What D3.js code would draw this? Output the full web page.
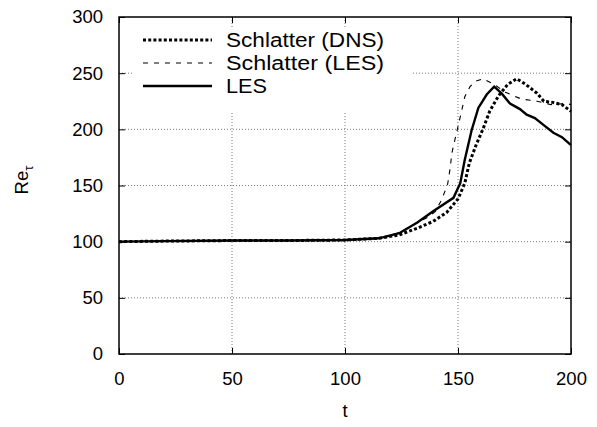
<!DOCTYPE html>
<html>
<head>
<meta charset="utf-8">
<script src="https://cdn.jsdelivr.net/npm/d3@7"></script>
<style>
  body { margin: 0; background: #fff; }
  text { font-family: "Liberation Sans", Arial, sans-serif; }
</style>
</head>
<body>
<svg id="chart"></svg>
<script>
// Schlatter (DNS)
const dnsT = [0, 20, 50, 75, 100, 115, 124, 132, 139, 145, 150, 153, 155, 158, 161, 164, 168, 172, 176, 180, 185, 188, 192, 196, 200];
const dnsV = [100, 100.5, 101, 101, 101.5, 103, 106, 112, 118, 126, 138, 152, 170, 186, 200, 216, 230, 240, 245, 240, 232, 225, 224, 222, 216];

// Schlatter (LES)
const sLesT = [0, 20, 50, 75, 100, 115, 124, 132, 137, 140, 142.7, 145.4, 146.5, 147.3, 149, 151, 153, 155.3, 158, 161, 166, 171, 178, 185, 191, 198, 200];
const sLesV = [100, 100.5, 101, 101, 101.5, 103, 108, 117, 122, 127, 137, 151, 165, 179, 194, 211, 229, 238, 243, 245, 240, 233, 227, 225, 222, 223, 222];

// LES
const lesT = [0, 20, 50, 75, 100, 115, 124, 132, 139, 148, 151, 153, 156, 159, 162.7, 166, 169.3, 173, 177.4, 180.4, 184, 187.8, 192.2, 196, 200];
const lesV = [100, 100.5, 101, 101, 101.5, 103, 107.5, 117, 127, 139, 152, 173, 199, 219, 231, 238, 232, 223, 218, 213, 210, 204, 197, 193, 186];

const xTicks = [0, 50, 100, 150, 200];
const yTicks = [0, 50, 100, 150, 200, 250, 300];

const width = 597, height = 427;
const margin = { top: 17, right: 26, bottom: 73, left: 119 };

const svg = d3.select("#chart").attr("width", width).attr("height", height);

const x = d3.scaleLinear().domain([0, 200]).range([margin.left, width - margin.right]);
const y = d3.scaleLinear().domain([0, 300]).range([height - margin.bottom, margin.top]);

// grid
svg.append("g").selectAll("line")
    .data(xTicks.slice(1, -1))
    .join("line")
    .attr("x1", d => x(d)).attr("x2", d => x(d))
    .attr("y1", y(0)).attr("y2", y(300))
    .attr("stroke", "#555").attr("stroke-width", 0.8).attr("stroke-dasharray", "1,2");

svg.append("g").selectAll("line")
    .data(yTicks.slice(1, -1))
    .join("line")
    .attr("x1", x(0)).attr("x2", x(200))
    .attr("y1", d => y(d)).attr("y2", d => y(d))
    .attr("stroke", "#555").attr("stroke-width", 0.8).attr("stroke-dasharray", "1,2");

// legend background clears grid behind it
svg.append("rect")
    .attr("x", x(0) + 14).attr("y", y(300) + 12)
    .attr("width", 280).attr("height", 84)
    .attr("fill", "#fff");

// axes with inward ticks
const axisStyle = g => {
    g.select(".domain").remove();
    g.selectAll("text").attr("font-size", 18.5).attr("fill", "#000")
        .attr("font-family", '"Liberation Sans", Arial, sans-serif');
    g.selectAll("line").attr("stroke", "#000");
};

svg.append("g")
    .attr("transform", `translate(0,${y(0)})`)
    .call(d3.axisBottom(x).tickValues(xTicks).tickSizeInner(-6).tickSizeOuter(0).tickPadding(18))
    .call(axisStyle);

svg.append("g")
    .attr("transform", `translate(${x(0)},0)`)
    .call(d3.axisLeft(y).tickValues(yTicks).tickSizeInner(-6).tickSizeOuter(0).tickPadding(16))
    .call(axisStyle);

// mirrored ticks on top and right
svg.append("g")
    .attr("transform", `translate(0,${y(300)})`)
    .call(d3.axisTop(x).tickValues(xTicks).tickSizeInner(-6).tickSizeOuter(0).tickFormat(""))
    .call(axisStyle);
svg.append("g")
    .attr("transform", `translate(${x(200)},0)`)
    .call(d3.axisRight(y).tickValues(yTicks).tickSizeInner(-6).tickSizeOuter(0).tickFormat(""))
    .call(axisStyle);

// frame
svg.append("rect")
    .attr("x", x(0)).attr("y", y(300))
    .attr("width", x(200) - x(0)).attr("height", y(0) - y(300))
    .attr("fill", "none").attr("stroke", "#000").attr("stroke-width", 1.5);

// series
const line = d3.line().x(d => x(d[0])).y(d => y(d[1]));
const series = [
    { name: "Schlatter (DNS)", t: dnsT, v: dnsV, width: 3, dash: "3,2.2" },
    { name: "Schlatter (LES)", t: sLesT, v: sLesV, width: 1.1, dash: "5,6" },
    { name: "LES", t: lesT, v: lesV, width: 2.4, dash: null }
];

svg.append("g").selectAll("path")
    .data(series)
    .join("path")
    .attr("d", s => line(s.t.map((t, i) => [t, s.v[i]])))
    .attr("fill", "none")
    .attr("stroke", "#000")
    .attr("stroke-width", s => s.width)
    .attr("stroke-dasharray", s => s.dash);

// legend
const legend = svg.append("g").selectAll("g")
    .data(series)
    .join("g")
    .attr("transform", (s, i) => `translate(143,${40 + i * 23})`);
legend.append("line")
    .attr("x1", 0).attr("x2", 69)
    .attr("stroke", "#000")
    .attr("stroke-width", s => s.width)
    .attr("stroke-dasharray", s => s.dash);
legend.append("text")
    .attr("x", 83).attr("dy", "0.36em")
    .attr("font-size", 20)
    .attr("textLength", s => s.name.length > 3 ? 158 : 41)
    .attr("lengthAdjust", "spacingAndGlyphs")
    .text(s => s.name);

// axis titles
svg.append("text")
    .attr("x", (x(0) + x(200)) / 2).attr("y", 417)
    .attr("text-anchor", "middle").attr("font-size", 18.5)
    .text("t");

const yl = svg.append("text")
    .attr("transform", `translate(28,180) rotate(-90)`)
    .attr("text-anchor", "middle").attr("font-size", 18.5);
yl.append("tspan").text("Re");
yl.append("tspan").attr("font-size", 13).attr("dy", 5).text("τ");
</script>
</body>
</html>
